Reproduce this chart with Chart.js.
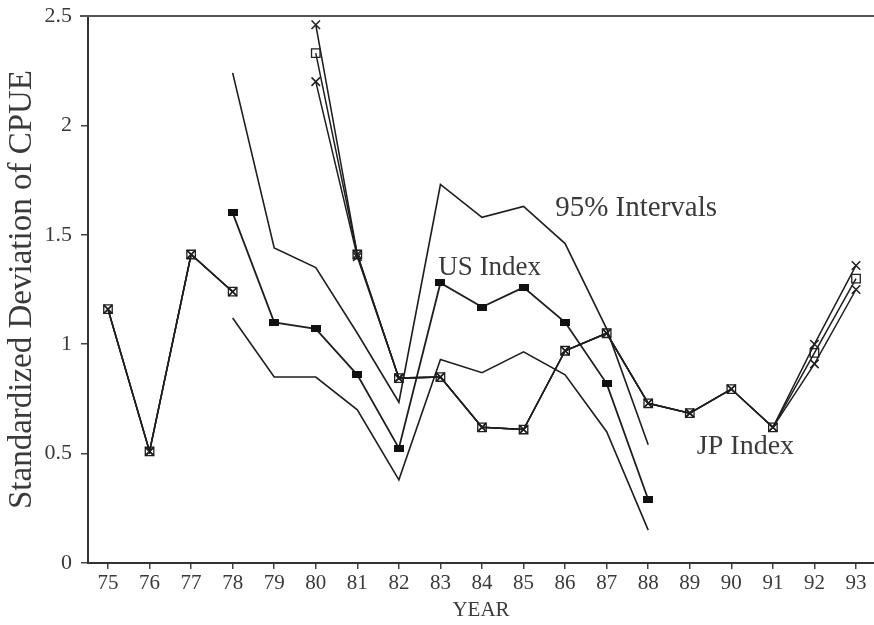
<!DOCTYPE html>
<html>
<head>
<meta charset="utf-8">
<script src="https://cdn.jsdelivr.net/npm/chart.js@4.4.1/dist/chart.umd.min.js"></script>
<style>
  html, body { margin: 0; padding: 0; background: #ffffff; }
  #wrap { width: 874px; height: 625px; }
</style>
</head>
<body>
<div id="wrap"><canvas id="c" width="874" height="625"></canvas></div>
<script>
// ---- data ----
const years = [75,76,77,78,79,80,81,82,83,84,85,86,87,88,89,90,91,92,93];
const yTicks = [0, 0.5, 1, 1.5, 2, 2.5];

const jpIndexA = [1.16,0.51,1.41,1.24,null,2.46,1.41,0.845,0.85,0.62,0.61,0.97,1.05,0.73,0.685,0.795,0.62,1.00,1.36];
const jpIndexB = [1.16,0.51,1.41,1.24,null,2.33,1.41,0.845,0.85,0.62,0.61,0.97,1.05,0.73,0.685,0.795,0.62,0.96,1.30];
const jpIndexC = [1.16,0.51,1.41,1.24,null,2.20,1.40,0.845,0.85,0.62,0.61,0.97,1.05,0.73,0.685,0.795,0.62,0.91,1.25];

const usIndex  = [null,null,null,1.60,1.10,1.07,0.86,0.525,1.28,1.17,1.26,1.10,0.82,0.29,null,null,null,null,null];
const upper95  = [null,null,null,2.24,1.44,1.35,1.05,0.735,1.73,1.58,1.63,1.46,1.07,0.54,null,null,null,null,null];
const lower95  = [null,null,null,1.12,0.85,0.85,0.70,0.38,0.93,0.87,0.965,0.86,0.60,0.15,null,null,null,null,null];

const pts = arr => years.map((x, i) => ({x: x, y: arr[i]}));

const ink = '#1e1e1e';
const textInk = '#3a3a3a';
const serif = '"Liberation Serif", "Times New Roman", serif';

// filled rectangular marker for the US index
const usMarker = document.createElement('canvas');
usMarker.width = 10; usMarker.height = 7;
(function(){ const g = usMarker.getContext('2d'); g.fillStyle = '#111'; g.fillRect(0,0,10,7); })();

const lineBase = {
  showLine: true, tension: 0, spanGaps: false, fill: false,
  borderColor: ink, backgroundColor: 'rgba(0,0,0,0)'
};

const textPlugin = {
  id: 'textLabels',
  afterDatasetsDraw(chart, args, opts) {
    const {ctx, scales: {x, y}} = chart;
    ctx.save();
    ctx.fillStyle = textInk;
    ctx.textBaseline = 'middle';
    ctx.textAlign = 'left';
    opts.items.forEach(it => {
      ctx.font = it.size + 'px ' + serif;
      ctx.fillText(it.text, x.getPixelForValue(it.x), y.getPixelForValue(it.y));
    });
    ctx.restore();
  }
};

const topLinePlugin = {
  id: 'topLine',
  afterDraw(chart) {
    const {ctx, chartArea} = chart;
    ctx.save();
    ctx.strokeStyle = '#555';
    ctx.lineWidth = 2;
    ctx.beginPath();
    ctx.moveTo(chartArea.left - 8, chartArea.top);
    ctx.lineTo(chartArea.right, chartArea.top);
    ctx.stroke();
    ctx.restore();
  }
};

new Chart(document.getElementById('c'), {
  type: 'scatter',
  data: {
    datasets: [
      Object.assign({}, lineBase, { label: 'Upper 95%', data: pts(upper95), borderWidth: 1.6, pointRadius: 0 }),
      Object.assign({}, lineBase, { label: 'Lower 95%', data: pts(lower95), borderWidth: 1.6, pointRadius: 0 }),
      Object.assign({}, lineBase, { label: 'US Index', data: pts(usIndex), borderWidth: 1.8, pointStyle: usMarker, pointRadius: 5 }),
      Object.assign({}, lineBase, { label: 'JP Index a', data: pts(jpIndexA), borderWidth: 1.5, pointStyle: 'crossRot', pointRadius: 6, pointBorderWidth: 1.5, pointBorderColor: ink }),
      Object.assign({}, lineBase, { label: 'JP Index b', data: pts(jpIndexB), borderWidth: 1.5, pointStyle: 'rect', pointRadius: 6, pointBorderWidth: 1.3, pointBorderColor: ink, pointBackgroundColor: 'rgba(0,0,0,0)' }),
      Object.assign({}, lineBase, { label: 'JP Index c', data: pts(jpIndexC), borderWidth: 1.5, pointStyle: 'crossRot', pointRadius: 6, pointBorderWidth: 1.5, pointBorderColor: ink })
    ]
  },
  options: {
    responsive: false,
    animation: false,
    devicePixelRatio: 1,
    clip: false,
    layout: { autoPadding: false, padding: { top: 16, right: 0, left: 0, bottom: 0 } },
    plugins: {
      legend: { display: false },
      tooltip: { enabled: false },
      textLabels: {
        items: [
          { text: '95% Intervals', x: 85.76, y: 1.62, size: 29 },
          { text: 'US Index', x: 82.95, y: 1.35, size: 27 },
          { text: 'JP Index', x: 89.17, y: 0.53, size: 28 }
        ]
      }
    },
    scales: {
      x: {
        type: 'linear',
        min: 74.519, max: 93.433,
        afterBuildTicks: s => { s.ticks = years.map(v => ({ value: v })); },
        afterFit: s => { s.height = 62; s.paddingLeft = 0; s.paddingRight = 0; },
        grid: { display: true, drawOnChartArea: false, tickLength: 6, color: '#444', lineWidth: 1.5 },
        border: { display: true, color: '#333', width: 2 },
        ticks: { color: textInk, font: { family: serif, size: 21 }, padding: 2, maxRotation: 0, autoSkip: false },
        title: { display: true, text: 'YEAR', color: textInk, font: { family: serif, size: 21 }, padding: { top: 0, bottom: 2 } }
      },
      y: {
        type: 'linear',
        min: 0, max: 2.5,
        afterBuildTicks: s => { s.ticks = yTicks.map(v => ({ value: v })); },
        afterFit: s => { s.width = 88; s.paddingTop = 0; s.paddingBottom = 0; },
        grid: { display: true, drawOnChartArea: false, tickLength: 7, color: '#444', lineWidth: 1.5 },
        border: { display: true, color: '#333', width: 2 },
        ticks: { color: textInk, font: { family: serif, size: 22 }, padding: 9, callback: v => String(v) },
        title: { display: true, text: 'Standardized Deviation of CPUE', color: textInk, font: { family: serif, size: 33 }, padding: { top: 3, bottom: 0 } }
      }
    }
  },
  plugins: [textPlugin, topLinePlugin]
});
</script>
</body>
</html>
